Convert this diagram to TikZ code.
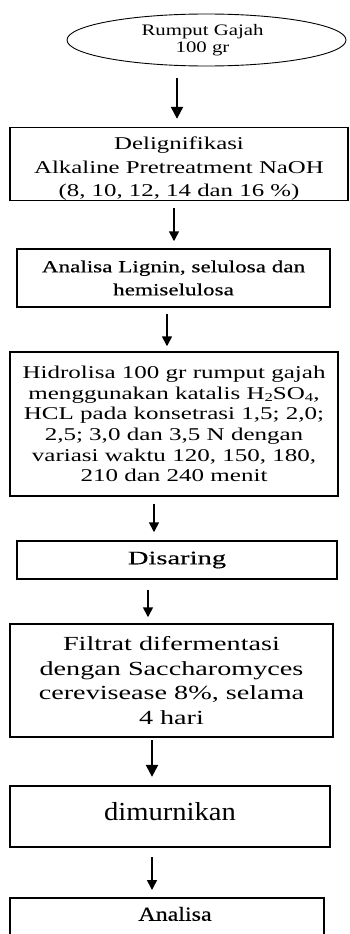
\documentclass[tikz,border=0pt]{standalone}
\usepackage{fontspec}
\setmainfont{Liberation Serif}
\newfontfamily\fE[FakeStretch=1.3]{Liberation Serif}
\newfontfamily\fA[FakeStretch=1.38]{Liberation Serif}
\newfontfamily\fB[FakeStretch=1.36,FakeBold=0.4]{Liberation Serif}
\newfontfamily\fC[FakeStretch=1.39]{Liberation Serif}
\newfontfamily\fD[FakeStretch=1.5,FakeBold=0.4]{Liberation Serif}
\newfontfamily\fF[FakeStretch=1.41]{Liberation Serif}
\newfontfamily\fG[FakeStretch=1.1]{Liberation Serif}
\newfontfamily\fH[FakeStretch=1.2,FakeBold=0.4]{Liberation Serif}
\usetikzlibrary{shapes.geometric,arrows.meta}
\newcommand{\subsc}[1]{\raisebox{-2.5pt}{\fontsize{12}{12}\selectfont #1}}
\tikzset{
  box/.style={draw=black, rectangle, inner sep=0pt, align=center, line width=1.5pt},
  arr/.style={line width=1.6pt, -{Triangle[width=10pt,length=10pt]}},
  bigarr/.style={line width=2.3pt, -{Triangle[width=12pt,length=12pt]}}
}
\begin{document}
\begin{tikzpicture}[x=1pt,y=-1pt]
\useasboundingbox (0,0) rectangle (350,934);
\clip (0,0) rectangle (350,934);
\fill[white] (0,0) rectangle (350,934);

\node[draw=black, ellipse, line width=0.9pt, minimum width=279pt, minimum height=52pt, inner sep=0pt, align=center,
  font={\fontsize{16}{17}\selectfont\fE}]
  (e) at (206.5,40) {Rumput Gajah\hspace*{8pt}\\ 100 gr\hspace*{8pt}};

\node[box, minimum width=338pt, minimum height=72pt, font={\fontsize{18}{23}\selectfont\fA}] (b1) at (179,164)
  {\rule{0pt}{22pt}Delignifikasi\\[1pt] Alkaline Pretreatment NaOH\\ (8, 10, 12, 14 dan 16 \%)};

\node[box, minimum width=313pt, minimum height=58pt, font={\fontsize{17}{23}\selectfont\fB}] (b2) at (173.5,278)
  {Analisa Lignin, selulosa dan\\ hemiselulosa};

\node[box, minimum width=328pt, minimum height=144pt, font={\fontsize{18}{20.6}\selectfont\fC}] (b3) at (174,424)
  {Hidrolisa 100 gr rumput gajah\\ menggunakan katalis H\subsc{2}SO\subsc{4},\\ HCL pada konsetrasi 1,5; 2,0;\\ 2,5; 3,0 dan 3,5 N dengan\\ variasi waktu 120, 150, 180,\\ 210 dan 240 menit};

\node[box, minimum width=320pt, minimum height=38pt, font={\fontsize{19}{22}\selectfont\fD}] (b4) at (177,560)
  {Disaring};

\node[box, minimum width=323pt, minimum height=113pt, font={\fontsize{20}{24.5}\selectfont\fF}] (b5) at (171.5,680.5)
  {Filtrat difermentasi\\ dengan Saccharomyces\\ cerevisease 8\%, selama\\ 4 hari};

\node[box, line width=2.3pt, minimum width=320pt, minimum height=61pt, text depth=10pt,
  font={\fontsize{26}{30}\selectfont\fG}] (b6) at (170,816.5)
  {dimurnikan};

\node[box, anchor=north, minimum width=314pt, inner ysep=9pt, text height=14pt, text depth=50pt,
  font={\fontsize{20}{24}\selectfont\fH}] (b7) at (167,897)
  {\hspace*{16pt}Analisa};

\coordinate (x1) at (177,0);
\coordinate (x2) at (174,0);
\coordinate (x3) at (167,0);
\coordinate (x4) at (154,0);
\coordinate (x5) at (148,0);
\coordinate (x6) at (152,0);
\coordinate (x7) at (152,0);

\draw[bigarr, shorten <=12pt, shorten >=8pt] (e.south -| x1) -- (b1.north -| x1);
\draw[arr, shorten <=7pt, shorten >=7pt] (b1.south -| x2) -- (b2.north -| x2);
\draw[arr, shorten <=6pt, shorten >=5pt] (b2.south -| x3) -- (b3.north -| x3);
\draw[arr, shorten <=7pt, shorten >=8pt] (b3.south -| x4) -- (b4.north -| x4);
\draw[arr, shorten <=10pt, shorten >=6pt] (b4.south -| x5) -- (b5.north -| x5);
\draw[bigarr, shorten <=2pt, shorten >=8pt] (b5.south -| x6) -- (b6.north -| x6);
\draw[arr, shorten <=9pt, shorten >=7pt] (b6.south -| x7) -- (b7.north -| x7);
\end{tikzpicture}
\end{document}
